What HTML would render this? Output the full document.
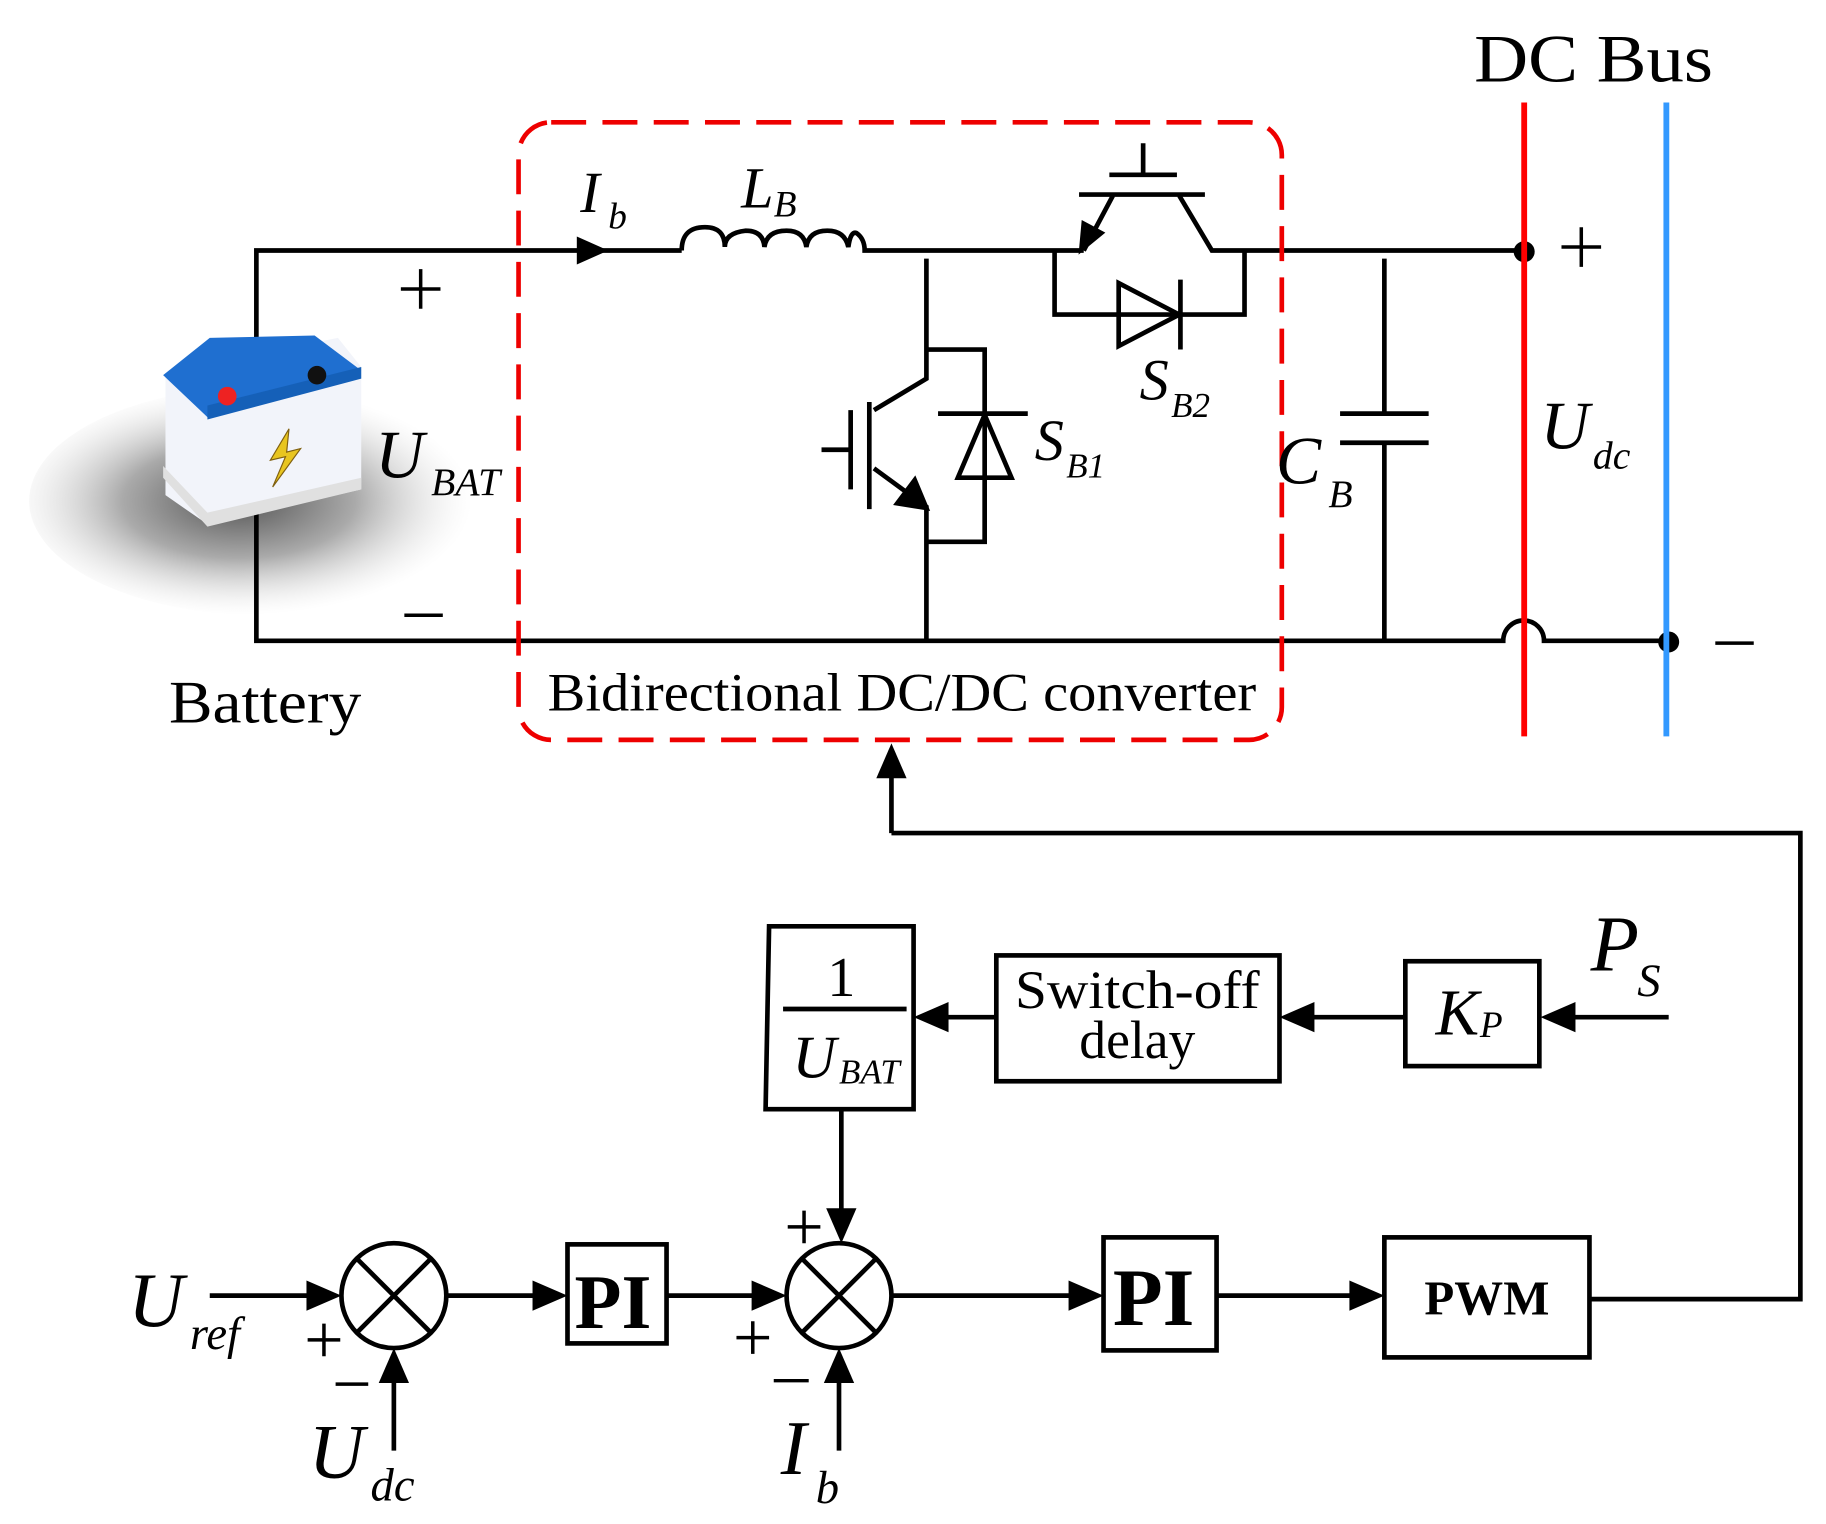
<!DOCTYPE html>
<html><head><meta charset="utf-8"><style>
html,body{margin:0;padding:0;background:#fff;}
svg{display:block;}
text{font-family:"Liberation Serif",serif;fill:#000;}
.it{font-style:italic;}
</style></head><body>
<svg width="1826" height="1524" viewBox="0 0 1567 1308" preserveAspectRatio="none" xmlns="http://www.w3.org/2000/svg">
<defs>
<radialGradient id="sh" cx="0.45" cy="0.5" r="0.5">
<stop offset="0" stop-color="#555"/><stop offset="0.5" stop-color="#aaa"/><stop offset="1" stop-color="#fff" stop-opacity="0.3"/>
</radialGradient>
</defs>
<g stroke="#000" stroke-width="4" fill="none">
<ellipse cx="225" cy="430" rx="200" ry="98" fill="url(#sh)" stroke="none"/>
<path d="M220,320 V215 H585"/>
<path d="M495,203 L522,215 L495,227 Z" fill="#000" stroke="none"/>
<path d="M585,215 Q585,195 605,195 Q622,195 622,212 Q622,200 640,198 Q655,198 656,212 Q658,198 675,198 Q690,198 692,212 Q694,198 710,198 Q725,198 728,212 Q730,198 735,200 Q742,205 742,215 H930"/>
<path d="M930,215 L955,168 M1012,168 L1040,215 H1308"/>
<path d="M926,167 H1034 M952,150 H1010 M981,150 V123"/>
<path d="M928,214 L930,192 L945,200 Z" fill="#000"/>
<path d="M905,215 V270 H1068 V215"/>
<path d="M960,243 L1012,270 L960,297 Z M1013,240 V300"/>
<path d="M795,222 V325 L750,352 M750,402 L795,435 V550"/>
<path d="M746,345 V437 M730,352 V420 M705,386 H730"/>
<path d="M795,436 L770,432 L785,412 Z" fill="#000"/>
<path d="M795,300 H845 V465 H795"/>
<path d="M822,410 L845,356 L868,410 Z M805,355 H882"/>
<path d="M220,440 V550 H1290 a17,17 0 0 1 35,0 H1432"/>
<path d="M1188,222 V355 M1150,355 H1226 M1150,380 H1226 M1188,380 V550"/>
<path d="M765,715 V665"/>
<path d="M752,668 L765,638 L778,668 Z" fill="#000" stroke="none"/>
<path d="M765,715 H1545 V1115 H1365"/>
<g stroke-width="3">
<path d="M344,248 H378 M361,231 V265"/>
<path d="M347,528 H380"/>
<path d="M1340,212 H1374 M1357,195 V229"/>
<path d="M1472,552 H1505"/>
<path d="M264,1150 H292 M278,1136 V1164"/>
<path d="M288,1188 H316"/>
<path d="M676,1053 H704 M690,1039 V1067"/>
<path d="M632,1148 H660 M646,1134 V1162"/>
<path d="M664,1185 H694"/>
</g>
</g>
<circle cx="1308" cy="216" r="9"/>
<circle cx="1432" cy="551" r="9"/>
<line x1="1308" y1="88" x2="1308" y2="632" stroke="#f00" stroke-width="5"/>
<line x1="1430" y1="88" x2="1430" y2="632" stroke="#3399ff" stroke-width="5"/>
<rect x="445" y="105" width="655" height="530" rx="28" fill="none" stroke="#e00" stroke-width="4" stroke-dasharray="30,14"/>
<g>
<path d="M142,320 L290,290 L310,315 L310,420 L178,450 L142,425 Z" fill="#f2f4fa"/>
<path d="M140,400 L178,440 L310,410 L310,420 L178,452 L140,410 Z" fill="#e0e0e0"/>
<path d="M140,322 L180,290 L270,288 L310,318 L178,358 Z" fill="#1f6fd0"/>
<path d="M178,348 L310,315 L310,325 L178,360 Z" fill="#1560b8"/>
<circle cx="195" cy="340" r="8" fill="#e22"/>
<circle cx="272" cy="322" r="8" fill="#111"/>
<path d="M248,368 L232,395 L245,392 L234,418 L258,385 L246,388 Z" fill="#e8c520" stroke="#806010" stroke-width="1"/>
</g>
<text x="1265" y="70" font-size="58" textLength="205" lengthAdjust="spacingAndGlyphs">DC Bus</text>
<text x="145" y="620" font-size="52" textLength="165" lengthAdjust="spacingAndGlyphs">Battery</text>
<text x="470" y="610" font-size="46" textLength="608" lengthAdjust="spacingAndGlyphs">Bidirectional DC/DC converter</text>
<text x="498" y="182" font-size="50" class="it">I</text><text x="522" y="196" font-size="32" class="it">b</text>
<text x="636" y="178" font-size="50" class="it">L</text><text x="664" y="186" font-size="32" class="it">B</text>
<text x="978" y="343" font-size="50" class="it">S</text><text x="1005" y="358" font-size="30" class="it">B2</text>
<text x="888" y="395" font-size="50" class="it">S</text><text x="915" y="410" font-size="30" class="it">B1</text>
<text x="322" y="410" font-size="58" class="it">U</text><text x="370" y="425" font-size="34" class="it">BAT</text>
<text x="1095" y="415" font-size="58" class="it">C</text><text x="1140" y="435" font-size="34" class="it">B</text>
<text x="1322" y="385" font-size="58" class="it">U</text><text x="1367" y="402" font-size="34" class="it">dc</text>
<g stroke="#000" stroke-width="4" fill="none">
<path d="M660,795 H784 V952 H657 Z"/>
<path d="M672,866 H778"/>
<rect x="855" y="820" width="243" height="108"/>
<rect x="1206" y="825" width="115" height="90"/>
<rect x="487" y="1068" width="85" height="85"/>
<rect x="947" y="1062" width="97" height="97"/>
<rect x="1188" y="1062" width="176" height="103"/>
<circle cx="338" cy="1112" r="45"/><path d="M306,1080 L370,1144 M370,1080 L306,1144"/>
<circle cx="720" cy="1112" r="45"/><path d="M688,1080 L752,1144 M752,1080 L688,1144"/>
<path d="M1432,873 H1340 M1206,873 H1120 M855,873 H805 M722,952 V1050 M180,1112 H275 M383,1112 H465 M572,1112 H655 M765,1112 H925 M1044,1112 H1168 M338,1245 V1175 M720,1245 V1175"/>
</g>
<g fill="#000">
<path d="M1322,873 L1352,860 L1352,886 Z"/>
<path d="M1098,873 L1128,860 L1128,886 Z"/>
<path d="M784,873 L814,860 L814,886 Z"/>
<path d="M722,1067 L709,1037 L735,1037 Z"/>
<path d="M293,1112 L263,1099 L263,1125 Z"/>
<path d="M487,1112 L457,1099 L457,1125 Z"/>
<path d="M675,1112 L645,1099 L645,1125 Z"/>
<path d="M947,1112 L917,1099 L917,1125 Z"/>
<path d="M1188,1112 L1158,1099 L1158,1125 Z"/>
<path d="M338,1157 L325,1187 L351,1187 Z"/>
<path d="M720,1157 L707,1187 L733,1187 Z"/>
</g>
<text x="710" y="855" font-size="48">1</text>
<text x="680" y="925" font-size="52" class="it">U</text><text x="720" y="930" font-size="30" class="it">BAT</text>
<text x="976" y="865" font-size="46" text-anchor="middle" textLength="210" lengthAdjust="spacingAndGlyphs">Switch-off</text>
<text x="976" y="908" font-size="46" text-anchor="middle">delay</text>
<text x="1232" y="888" font-size="56" class="it">K</text><text x="1270" y="890" font-size="32" class="it">P</text>
<text x="1365" y="833" font-size="68" class="it">P</text><text x="1405" y="855" font-size="40" class="it">S</text>
<text x="493" y="1140" font-size="66" font-weight="bold">PI</text>
<text x="955" y="1137" font-size="70" font-weight="bold">PI</text>
<text x="1276" y="1128" font-size="42" font-weight="bold" text-anchor="middle">PWM</text>
<text x="110" y="1138" font-size="66" class="it">U</text><text x="163" y="1158" font-size="40" class="it">ref</text>
<text x="265" y="1268" font-size="66" class="it">U</text><text x="318" y="1288" font-size="40" class="it">dc</text>
<text x="670" y="1265" font-size="66" class="it">I</text><text x="700" y="1290" font-size="40" class="it">b</text>
</svg>
</body></html>
